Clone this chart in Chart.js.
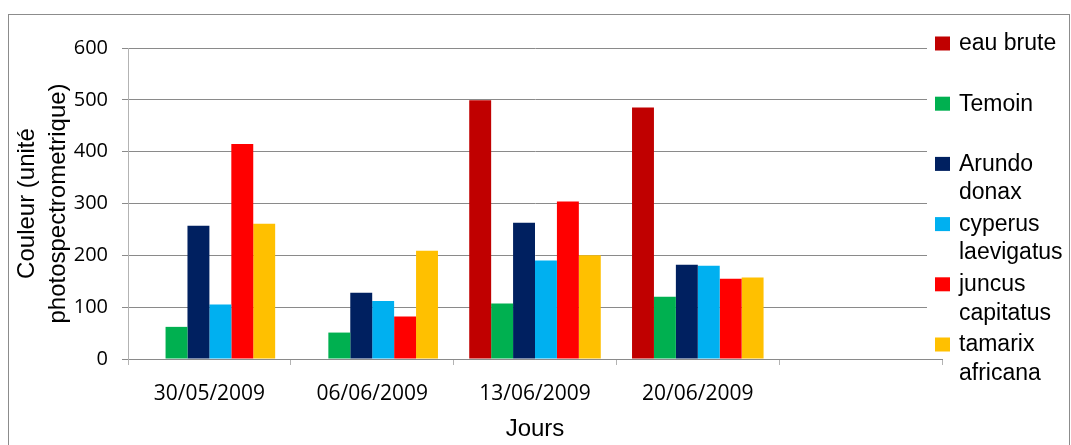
<!DOCTYPE html>
<html>
<head>
<meta charset="utf-8">
<script src="https://cdn.jsdelivr.net/npm/chart.js@4"></script>
<style>
  html, body { margin: 0; padding: 0; background: #ffffff; }
  #wrap { width: 1071px; height: 445px; position: relative; }
</style>
</head>
<body>
<div id="wrap"><canvas id="c" width="1071" height="445"></canvas></div>
<script>
// ---- data ----
const categories = ["30/05/2009", "06/06/2009", "13/06/2009", "20/06/2009", ""];
const seriesNames = ["eau brute", "Temoin", "Arundo donax", "cyperus laevigatus", "juncus capitatus", "tamarix africana"];
const eauBrute   = [null, null, 499, 485, null];
const temoin     = [62, 51, 107, 120, null];
const arundo     = [257, 128, 263, 182, null];
const cyperus    = [105, 112, 190, 180, null];
const juncus     = [415, 82, 304, 155, null];
const tamarix    = [261, 209, 200, 157, null];
const yTicks     = [0, 100, 200, 300, 400, 500, 600];
const yTitle     = ["Couleur (unité", "photospectrometrique)"];
const xTitle     = "Jours";

const seriesValues = [eauBrute, temoin, arundo, cyperus, juncus, tamarix];
const seriesColors = ["#C00000", "#00B050", "#002060", "#00B0F0", "#FF0000", "#FFC000"];

const gridColor = "#8a8a8a";
const axisColor = "#b3b3b3";

const frameAndLegend = {
  id: "frameAndLegend",
  beforeDraw(chart) {
    const ctx = chart.ctx;
    ctx.save();
    ctx.fillStyle = "#ffffff";
    ctx.fillRect(0, 0, chart.width, chart.height);
    ctx.strokeStyle = "#8c8c8c";
    ctx.lineWidth = 1;
    ctx.strokeRect(8.5, 14.5, 1061, 440);
    ctx.restore();
  },
  afterDraw(chart) {
    const ctx = chart.ctx;
    ctx.save();
    // legend box background hides the gridlines
    ctx.fillStyle = "#ffffff";
    ctx.fillRect(927, 20, 140, 334);
    ctx.font = "23px 'Liberation Sans', Arial, sans-serif";
    ctx.textBaseline = "middle";
    ctx.textAlign = "left";
    const maxW = 106;
    const lineH = 28.5;
    chart.data.datasets.forEach((ds, i) => {
      const y0 = 44 + i * 60.2;
      ctx.fillStyle = ds.backgroundColor;
      ctx.fillRect(935, y0 - 7.5, 15, 14);
      const words = ds.label.split(" ");
      const lines = [];
      let cur = "";
      words.forEach(w => {
        const test = cur ? cur + " " + w : w;
        if (cur && ctx.measureText(test).width > maxW) { lines.push(cur); cur = w; }
        else cur = test;
      });
      if (cur) lines.push(cur);
      ctx.fillStyle = "#000000";
      lines.forEach((ln, k) => ctx.fillText(ln, 959, y0 + k * lineH));
    });
    ctx.restore();
  }
};

new Chart(document.getElementById("c"), {
  type: "bar",
  data: {
    labels: categories,
    datasets: seriesNames.map((name, i) => ({
      label: name,
      data: seriesValues[i],
      backgroundColor: seriesColors[i],
      borderWidth: 0,
      categoryPercentage: 0.808,
      barPercentage: 1.0
    }))
  },
  options: {
    responsive: false,
    animation: false,
    layout: { padding: { left: 0, right: 129, top: 48, bottom: 0 } },
    plugins: {
      legend: { display: false },
      tooltip: { enabled: false }
    },
    scales: {
      x: {
        grid: {
          offset: true,
          drawOnChartArea: false,
          drawTicks: true,
          tickLength: 6,
          color: axisColor
        },
        border: { display: true, color: gridColor },
        ticks: {
          color: "#000000",
          font: { family: "'Open Sans', sans-serif", size: 21 },
          padding: 16,
          maxRotation: 0
        },
        title: {
          display: true,
          text: xTitle,
          color: "#000000",
          font: { family: "'Liberation Sans', Arial, sans-serif", size: 24 },
          padding: { top: 0, bottom: 1 }
        },
        afterFit(scale) { scale.height = 86; }
      },
      y: {
        min: 0,
        max: 600,
        afterBuildTicks(scale) { scale.ticks = yTicks.map(v => ({ value: v })); },
        grid: {
          color: gridColor,
          drawTicks: true,
          tickLength: 6
        },
        border: { display: true, color: axisColor },
        ticks: {
          color: "#000000",
          font: { family: "'Open Sans', sans-serif", size: 20 },
          padding: 14
        },
        title: {
          display: true,
          text: yTitle,
          color: "#000000",
          font: { family: "'Liberation Sans', Arial, sans-serif", size: 24, lineHeight: 1.3 },
          padding: { top: 12, bottom: 0 }
        },
        afterFit(scale) { scale.width = 128; }
      }
    }
  },
  plugins: [frameAndLegend]
});
</script>
</body>
</html>
